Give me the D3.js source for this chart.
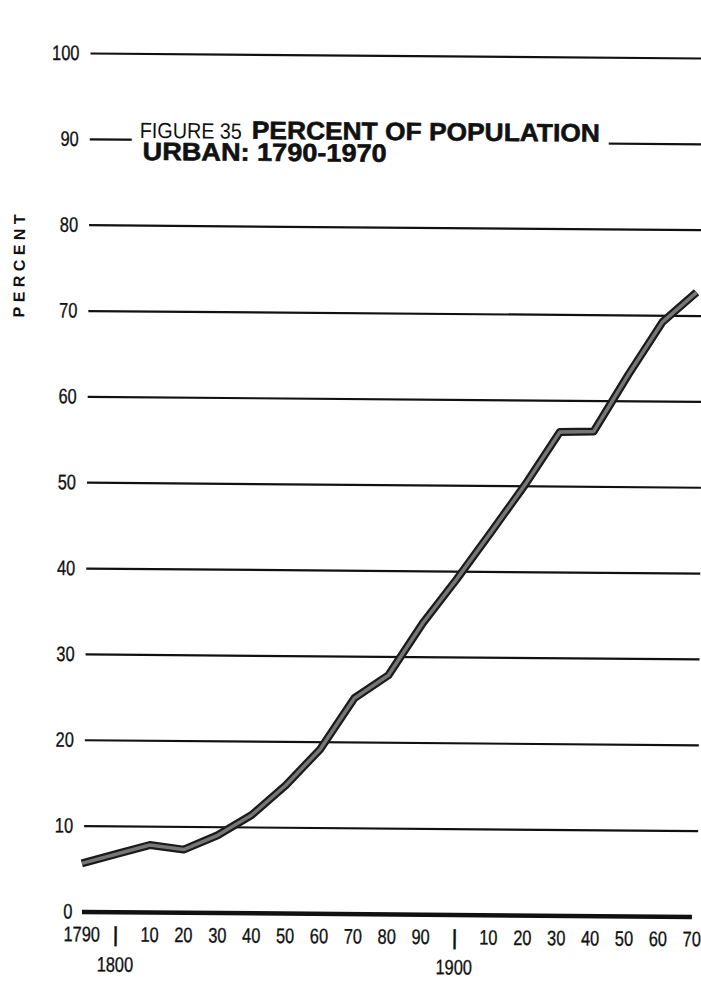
<!DOCTYPE html>
<html>
<head>
  <meta charset="utf-8">
  <title>Percent of Population Urban: 1790-1970</title>
  <script src="https://d3js.org/d3.v7.min.js"></script>
  <style>
    body { margin: 0; background: #fff; }
    svg { display: block; }
    .num { font-family: "Liberation Sans", Arial, sans-serif; font-size: 21px; fill: #111; stroke: #111; stroke-width: 0.35px; }
  </style>
</head>
<body>
  <svg width="701" height="983"></svg>
  <script>
    // census years and percent urban
    var years = [1790, 1800, 1810, 1820, 1830, 1840, 1850, 1860, 1870, 1880, 1890,
                 1900, 1910, 1920, 1930, 1940, 1950, 1960, 1970];
    var urbanPct = [5.6, 6.7, 7.8, 7.3, 9.0, 11.4, 14.9, 19.1, 25.1, 27.8, 33.9,
                    39.1, 44.6, 50.2, 56.3, 56.4, 63.0, 69.2, 72.7];
    var pctTicks = [0, 10, 20, 30, 40, 50, 60, 70, 80, 90, 100];
    var yearTickLabels = ["1790", "|", "10", "20", "30", "40", "50", "60", "70", "80", "90",
                          "|", "10", "20", "30", "40", "50", "60", "70"];
    var centuryYears = [1800, 1900];
    var centuryLabels = ["1800", "1900"];
    var figureLabel = "FIGURE 35";
    var titleLine1 = "PERCENT OF POPULATION";
    var titleLine2 = "URBAN: 1790-1970";
    var yAxisTitle = "PERCENT";

    // the numerals on the original are a condensed face
    var squeeze = "scale(0.78,1)";

    var svg = d3.select("svg");
    svg.append("rect").attr("width", 701).attr("height", 983).attr("fill", "#fff");

    // the printed page was scanned slightly askew
    var g = svg.append("g").attr("transform", "rotate(0.47,395,480)");

    var x = d3.scaleLinear().domain([1790, 1970]).range([85, 695]);
    var y = d3.scaleLinear().domain([0, 100]).range([914, 55.5]);

    //horizontal rules
    g.append("g")
      .attr("transform", "translate(87,0)")
      .call(d3.axisRight(y).tickValues(pctTicks.slice(1)).tickSize(614).tickFormat(""))
      .call(function (s) { s.select(".domain").remove(); })
      .selectAll("line")
      .attr("stroke", "#111")
      .attr("stroke-width", 2.2);

    //percent labels
    g.append("g")
      .attr("transform", "translate(76,0)")
      .call(d3.axisLeft(y).tickValues(pctTicks).tickSize(0).tickPadding(0))
      .call(function (s) { s.select(".domain").remove(); })
      .selectAll("text")
      .attr("class", "num")
      .attr("fill", null)
      .attr("transform", squeeze);

    //year axis with the heavy baseline
    var xAxis = g.append("g")
      .attr("transform", "translate(0," + y(0) + ")")
      .call(d3.axisBottom(x).tickValues(years).tickSize(0).tickSizeOuter(0).tickPadding(15)
        .tickFormat(function (d, i) { return yearTickLabels[i]; }));
    xAxis.select(".domain")
      .attr("stroke", "#111")
      .attr("stroke-width", 4.5);
    xAxis.selectAll("text")
      .attr("class", "num")
      .attr("fill", null)
      .attr("transform", squeeze)
      .style("font-weight", function (d, i) { return yearTickLabels[i] === "|" ? "bold" : null; });

    g.selectAll(".century")
      .data(centuryYears)
      .enter()
      .append("text")
      .attr("class", "num century")
      .attr("transform", function (d) { return "translate(" + x(d) + ",974) " + squeeze; })
      .attr("text-anchor", "middle")
      .text(function (d, i) { return centuryLabels[i]; });

    //title block, knocked out of the 90 rule
    g.append("rect")
      .attr("x", 129).attr("y", 116)
      .attr("width", 477).attr("height", 52)
      .attr("fill", "#fff");

    g.append("text")
      .attr("x", 137).attr("y", 140)
      .attr("textLength", 102).attr("lengthAdjust", "spacingAndGlyphs")
      .style("font-family", "'Liberation Sans', sans-serif")
      .style("font-size", "22px")
      .attr("fill", "#111")
      .text(figureLabel);

    g.append("text")
      .attr("x", 249).attr("y", 140)
      .attr("textLength", 348).attr("lengthAdjust", "spacingAndGlyphs")
      .style("font-family", "'Liberation Sans', sans-serif")
      .style("font-size", "25px")
      .style("font-weight", "bold")
      .attr("fill", "#111")
      .attr("stroke", "#111")
      .attr("stroke-width", 0.6)
      .text(titleLine1);

    g.append("text")
      .attr("x", 140).attr("y", 162)
      .attr("textLength", 244).attr("lengthAdjust", "spacingAndGlyphs")
      .style("font-family", "'Liberation Sans', sans-serif")
      .style("font-size", "25px")
      .style("font-weight", "bold")
      .attr("fill", "#111")
      .attr("stroke", "#111")
      .attr("stroke-width", 0.6)
      .text(titleLine2);

    //vertical axis title
    g.append("text")
      .attr("transform", "translate(23,269) rotate(-90)")
      .attr("text-anchor", "middle")
      .attr("textLength", 103).attr("lengthAdjust", "spacing")
      .style("font-family", "'Liberation Sans', sans-serif")
      .style("font-size", "16px")
      .style("font-weight", "bold")
      .attr("fill", "#111")
      .text(yAxisTitle);

    //the data line: dark edge with a grey core
    var rows = years.map(function (yr, i) { return { year: yr, pct: urbanPct[i] }; });
    var line = d3.line()
      .x(function (d) { return x(d.year); })
      .y(function (d) { return y(d.pct); });

    g.append("path")
      .datum(rows)
      .attr("fill", "none")
      .attr("stroke", "#1a1a1a")
      .attr("stroke-width", 8)
      .attr("stroke-linejoin", "round")
      .attr("d", line);

    g.append("path")
      .datum(rows)
      .attr("fill", "none")
      .attr("stroke", "#767676")
      .attr("stroke-width", 3.5)
      .attr("stroke-linejoin", "round")
      .attr("d", line);
  </script>
</body>
</html>
